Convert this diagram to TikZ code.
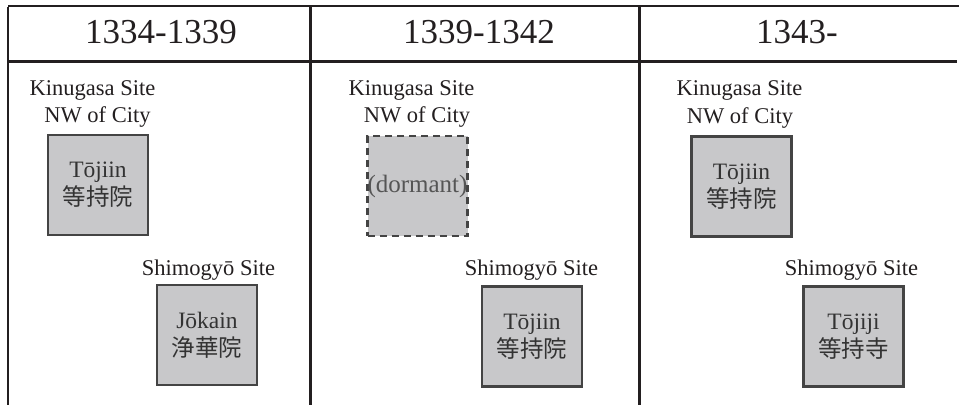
\documentclass[tikz,border=0pt]{standalone}
\usepackage{fontspec}
\setmainfont{Liberation Serif}
\newfontfamily\cjk{Noto Sans CJK JP}
\definecolor{boxfill}{HTML}{C8C8CA}
\definecolor{boxline}{HTML}{444444}
\definecolor{rule}{HTML}{231F20}
\definecolor{intext}{HTML}{333333}
\definecolor{dortext}{HTML}{555555}
\begin{document}
\begin{tikzpicture}[x=1pt,y=-1pt,
  head/.style={font=\fontsize{35}{40}\selectfont, text=rule, anchor=base, inner sep=0},
  lab/.style={font=\fontsize{22.5}{27}\selectfont, text=rule, anchor=base, inner sep=0},
  site/.style={draw=boxline, line width=2.2pt, fill=boxfill, minimum width=100pt, minimum height=100pt, inner sep=0,
    align=center, text=intext, font=\fontsize{23.5}{28}\selectfont},
  dormantbox/.style={site, dash pattern=on 7pt off 5pt, text=dortext, font=\fontsize{25}{28}\selectfont},
  frame/.style={draw=rule, line width=2.6pt}]
\useasboundingbox (0,0) rectangle (959,405);
% frame
\coordinate (tl) at (8,6);
\coordinate (tr) at (959,6);
\coordinate (bl) at (8,405);
\coordinate (hl) at (8,61.5);
\coordinate (hr) at (957,61.5);
\coordinate (d1t) at (310.5,6);
\coordinate (d1b) at (310.5,405);
\coordinate (d2t) at (639.5,6);
\coordinate (d2b) at (639.5,405);
\draw[frame] (tl) -- (tr);
\draw[frame] (hl) -- (hr);
\draw[frame] ([yshift=-1.3pt]tl) -- (bl);
\draw[frame] (d1t) -- (d1b);
\draw[frame] (d2t) -- (d2b);
% headers
\node[head] (h1) at (161,43) {1334-1339};
\node[head] (h2) at (479,43) {1339-1342};
\node[head] (h3) at (797,43) {1343-};
% column 1
\node[lab] (k1) at (92.5,95) {Kinugasa Site};
\node[lab] (n1) at (97.5,122) {NW of City};
\node[site] (b1a) at (98,185) {Tōjiin\\{\cjk 等持院}};
\node[lab] (s1) at (208.5,275) {Shimogyō Site};
\node[site] (b1b) at (207,335) {Jōkain\\{\cjk 浄華院}};
% column 2
\node[lab] (k2) at (411.5,95) {Kinugasa Site};
\node[lab] (n2) at (417,122) {NW of City};
\node[dormantbox] (b2a) at (417.5,186) {(dormant)};
\node[lab] (s2) at (531.5,275) {Shimogyō Site};
\node[site] (b2b) at (532,336.5) {Tōjiin\\{\cjk 等持院}};
% column 3
\node[lab] (k3) at (739.5,95) {Kinugasa Site};
\node[lab] (n3) at (740,123) {NW of City};
\node[site] (b3a) at (741.5,186.5) {Tōjiin\\{\cjk 等持院}};
\node[lab] (s3) at (851.5,275) {Shimogyō Site};
\node[site] (b3b) at (853.5,336.5) {Tōjiji\\{\cjk 等持寺}};
\end{tikzpicture}
\end{document}
